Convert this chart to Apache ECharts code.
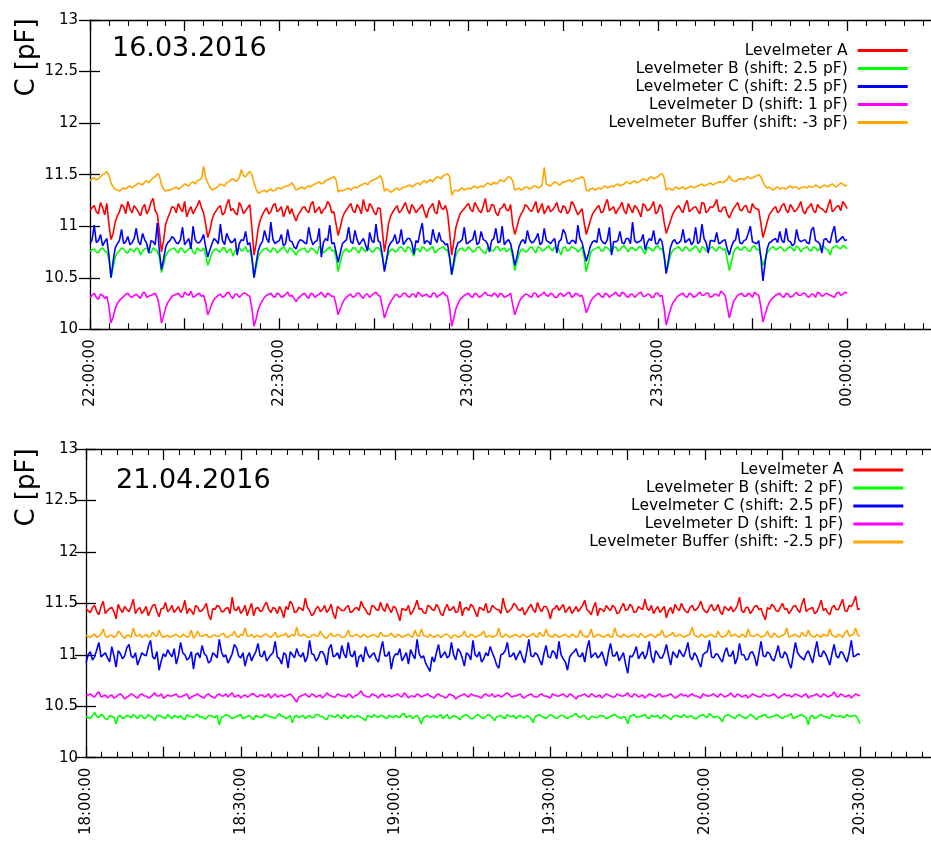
<!DOCTYPE html>
<html><head><meta charset="utf-8">
<script src="https://cdn.jsdelivr.net/npm/echarts@6/dist/echarts.min.js"></script>
<style>html,body{margin:0;padding:0;background:#fff;overflow:hidden;width:931px;height:843px}#c{width:960px;height:843px}</style>
</head><body><div id="c"></div>
<script>
// ---- Plot 1: 16.03.2016, start 22:00:00; main samples every 40 s, "Mid" samples 20 s after each ----
const topStartMin = 22 * 60;
const topStepMin = 40 / 60;
const topNames = ['Levelmeter A', 'Levelmeter B (shift: 2.5 pF)', 'Levelmeter C (shift: 2.5 pF)', 'Levelmeter D (shift: 1 pF)', 'Levelmeter Buffer (shift: -3 pF)'];
const topA = [
11.15,11.20,11.12,11.18,11.22,10.87,11.04,11.14,11.19,11.24,
11.13,11.17,11.10,11.21,11.16,11.27,11.12,10.75,11.02,11.13,
11.18,11.22,11.14,11.09,11.19,11.16,11.25,11.13,10.89,11.06,
11.15,11.20,11.13,11.26,11.17,11.11,11.19,11.15,11.21,10.72,
10.98,11.11,11.18,11.14,11.22,11.16,11.09,11.20,11.17,11.05,
11.14,11.19,11.13,11.24,11.16,11.12,11.18,11.21,11.14,10.91,
11.08,11.16,11.22,11.13,11.18,11.26,11.14,11.19,11.11,11.17,
10.75,11.03,11.14,11.20,11.15,11.23,11.12,11.18,11.16,11.21,
11.08,11.19,11.14,11.25,11.16,11.13,10.72,10.99,11.12,11.17,
11.22,11.14,11.19,11.13,11.27,11.15,11.20,11.10,11.18,11.16,
11.21,10.92,11.07,11.15,11.19,11.14,11.24,11.17,11.12,11.20,
11.16,11.23,11.13,11.18,11.15,11.21,11.11,11.17,10.92,11.06,
11.15,11.20,11.14,11.26,11.17,11.12,11.19,11.15,11.22,11.13,
11.18,11.09,11.20,11.16,11.24,11.14,11.18,10.93,11.05,11.15,
11.20,11.13,11.25,11.16,11.19,11.12,11.22,11.15,11.18,11.26,
11.14,11.19,11.08,11.17,11.23,11.15,11.20,11.13,11.18,11.16,
10.89,11.04,11.14,11.19,11.15,11.22,11.13,11.18,11.16,11.24,
11.12,11.19,11.15,11.21,11.17,11.13,11.26,11.16,11.20,11.24,
11.17];
const topAMid = [
11.18,11.14,11.23,11.11,11.02,10.93,11.10,11.21,11.12,11.17,
11.20,11.14,11.18,11.12,11.23,11.15,10.95,10.86,11.08,11.19,
11.13,11.17,11.24,11.15,11.12,11.20,11.18,11.02,10.96,11.12,
11.18,11.11,11.21,11.15,11.13,11.23,11.12,11.18,10.98,10.83,
11.06,11.15,11.12,11.20,11.14,11.19,11.15,11.12,11.10,11.11,
11.18,11.15,11.21,11.13,11.19,11.16,11.24,11.13,11.02,10.99,
11.13,11.19,11.15,11.21,11.12,11.17,11.22,11.14,11.18,10.96,
10.88,11.10,11.17,11.13,11.19,11.16,11.21,11.13,11.18,11.14,
11.16,11.22,11.12,11.18,11.20,10.94,10.85,11.06,11.15,11.20,
11.16,11.23,11.15,11.19,11.14,11.21,11.13,11.17,11.22,11.15,
11.02,10.99,11.12,11.21,11.16,11.19,11.13,11.22,11.16,11.14,
11.19,11.15,11.20,11.12,11.24,11.16,11.14,11.03,10.99,11.12,
11.18,11.13,11.21,11.15,11.19,11.16,11.23,11.12,11.17,11.20,
11.14,11.22,11.15,11.19,11.12,11.21,11.04,10.99,11.11,11.18,
11.16,11.21,11.14,11.18,11.15,11.23,11.13,11.19,11.21,11.15,
11.18,11.12,11.13,11.20,11.16,11.19,11.14,11.22,11.17,11.03,
10.96,11.11,11.17,11.13,11.20,11.16,11.21,11.14,11.19,11.15,
11.17,11.22,11.13,11.18,11.15,11.20,11.14,11.19,11.15,11.21];
const topB = [
10.76,10.78,10.74,10.79,10.75,10.50,10.70,10.76,10.78,10.74,
10.77,10.79,10.72,10.78,10.75,10.79,10.76,10.55,10.71,10.77,
10.79,10.74,10.78,10.76,10.80,10.73,10.77,10.79,10.62,10.74,
10.78,10.75,10.79,10.77,10.71,10.78,10.76,10.80,10.77,10.50,
10.70,10.77,10.79,10.75,10.78,10.76,10.80,10.74,10.78,10.72,
10.77,10.79,10.75,10.78,10.73,10.79,10.76,10.80,10.77,10.56,
10.73,10.78,10.76,10.79,10.74,10.78,10.80,10.75,10.79,10.77,
10.60,10.74,10.78,10.76,10.80,10.75,10.79,10.71,10.78,10.80,
10.76,10.79,10.74,10.78,10.80,10.77,10.53,10.72,10.78,10.76,
10.80,10.75,10.79,10.77,10.73,10.79,10.76,10.80,10.78,10.75,
10.79,10.57,10.73,10.78,10.76,10.80,10.74,10.79,10.77,10.81,
10.76,10.79,10.72,10.80,10.77,10.79,10.75,10.80,10.56,10.74,
10.78,10.80,10.76,10.79,10.74,10.80,10.77,10.81,10.75,10.79,
10.77,10.80,10.73,10.79,10.76,10.81,10.78,10.55,10.72,10.78,
10.80,10.76,10.79,10.77,10.81,10.74,10.79,10.77,10.80,10.76,
10.79,10.78,10.57,10.75,10.80,10.77,10.79,10.76,10.81,10.78,
10.62,10.74,10.79,10.77,10.80,10.76,10.79,10.78,10.81,10.75,
10.79,10.77,10.80,10.76,10.81,10.78,10.72,10.80,10.79,10.81,
10.78];
const topBMid = [
10.77,10.75,10.78,10.76,10.68,10.60,10.74,10.79,10.75,10.78,
10.75,10.78,10.76,10.79,10.74,10.77,10.70,10.63,10.75,10.78,
10.76,10.79,10.74,10.78,10.75,10.79,10.76,10.72,10.68,10.77,
10.76,10.79,10.74,10.78,10.76,10.79,10.77,10.75,10.68,10.60,
10.74,10.78,10.76,10.79,10.74,10.78,10.77,10.79,10.75,10.76,
10.78,10.75,10.79,10.76,10.80,10.74,10.78,10.76,10.70,10.65,
10.77,10.75,10.79,10.76,10.80,10.75,10.78,10.76,10.79,10.70,
10.67,10.77,10.75,10.79,10.77,10.80,10.76,10.78,10.75,10.79,
10.77,10.80,10.76,10.79,10.77,10.69,10.62,10.76,10.79,10.77,
10.78,10.76,10.80,10.75,10.79,10.77,10.80,10.76,10.79,10.77,
10.70,10.65,10.77,10.75,10.79,10.77,10.80,10.76,10.79,10.78,
10.80,10.77,10.79,10.76,10.80,10.78,10.77,10.70,10.64,10.77,
10.79,10.76,10.80,10.77,10.79,10.76,10.80,10.78,10.79,10.77,
10.80,10.76,10.79,10.77,10.80,10.78,10.70,10.63,10.76,10.79,
10.77,10.80,10.76,10.79,10.78,10.80,10.76,10.79,10.77,10.80,
10.77,10.68,10.65,10.78,10.77,10.80,10.76,10.80,10.77,10.71,
10.68,10.77,10.80,10.78,10.79,10.77,10.80,10.76,10.79,10.78,
10.80,10.76,10.79,10.78,10.80,10.77,10.79,10.81,10.78,10.80];
const topC = [
10.83,11.01,10.86,10.81,10.88,10.50,10.79,10.86,10.83,10.90,
10.84,10.98,10.82,10.87,10.74,10.85,11.03,10.58,10.80,10.86,
10.88,10.83,10.99,10.85,10.78,10.87,10.84,10.92,10.70,10.83,
10.86,11.02,10.82,10.88,10.85,10.72,10.87,10.95,10.84,10.50,
10.76,10.85,10.88,11.04,10.83,10.86,10.81,10.97,10.85,10.78,
10.87,10.84,10.99,10.82,10.86,10.70,10.88,11.01,10.84,10.65,
10.83,10.87,10.85,10.96,10.82,10.88,10.76,10.86,11.02,10.84,
10.56,10.80,10.86,10.83,10.97,10.85,10.88,10.73,10.84,11.03,
10.86,10.82,10.88,10.94,10.85,10.83,10.53,10.78,10.85,10.99,
10.84,10.87,10.82,10.95,10.86,10.75,10.88,10.84,11.00,10.85,
10.83,10.62,10.80,10.87,10.96,10.84,10.88,10.82,10.98,10.85,
10.86,10.74,10.87,10.93,10.83,10.86,11.01,10.84,10.66,10.81,
10.86,10.98,10.84,10.87,10.72,10.85,10.95,10.83,10.88,11.04,
10.84,10.86,10.77,10.88,10.96,10.83,10.85,10.54,10.79,10.87,
10.84,10.97,10.86,10.82,10.99,10.85,10.88,10.74,10.86,10.94,
10.84,10.87,10.72,10.85,10.98,10.83,10.87,11.00,10.84,10.86,
10.47,10.78,10.85,10.88,10.95,10.84,10.86,10.81,10.97,10.85,
10.87,10.83,10.99,10.85,10.74,10.88,10.84,11.00,10.86,10.90,
10.87];
const topCMid = [
10.87,10.84,10.92,10.85,10.72,10.66,10.83,10.97,10.85,10.82,
10.88,10.85,10.93,10.83,10.86,10.82,10.75,10.68,10.84,10.90,
10.84,10.87,10.82,10.88,11.00,10.84,10.87,10.80,10.77,10.88,
10.83,10.86,10.93,10.84,10.88,10.83,10.86,10.82,10.70,10.64,
10.82,10.96,10.84,10.87,10.85,10.92,10.83,10.86,10.80,10.84,
10.86,10.83,10.88,10.85,10.98,10.84,10.86,10.83,10.75,10.74,
10.85,10.99,10.83,10.87,10.85,10.82,10.94,10.84,10.86,10.72,
10.67,10.84,10.92,10.85,10.82,10.88,10.84,10.86,10.95,10.83,
10.85,10.97,10.84,10.86,10.82,10.70,10.66,10.84,10.87,10.83,
10.86,10.96,10.84,10.87,10.83,10.86,10.98,10.85,10.82,10.87,
10.74,10.70,10.85,10.83,10.87,10.85,10.93,10.84,10.86,10.83,
10.88,10.85,10.97,10.84,10.86,10.83,10.88,10.75,10.73,10.85,
10.84,10.87,10.83,10.99,10.85,10.86,10.84,10.88,10.83,10.86,
10.85,10.92,10.84,10.86,10.83,10.88,10.72,10.66,10.85,10.83,
10.86,10.84,10.88,10.85,10.83,11.02,10.84,10.86,10.85,10.83,
10.86,10.78,10.80,10.87,10.84,10.86,10.93,10.85,10.83,10.70,
10.64,10.84,10.87,10.84,10.86,10.98,10.85,10.83,10.87,10.86,
10.84,10.96,10.86,10.83,10.87,10.85,10.94,10.84,10.88,10.86];
const topD = [
10.31,10.35,10.29,10.33,10.32,10.06,10.20,10.28,10.32,10.35,
10.31,10.34,10.30,10.36,10.32,10.34,10.31,10.06,10.21,10.29,
10.33,10.35,10.31,10.34,10.37,10.32,10.35,10.33,10.14,10.25,
10.31,10.34,10.32,10.36,10.30,10.34,10.33,10.35,10.32,10.03,
10.19,10.28,10.33,10.35,10.31,10.34,10.32,10.36,10.33,10.27,
10.32,10.35,10.30,10.34,10.33,10.36,10.31,10.34,10.32,10.14,
10.25,10.31,10.34,10.32,10.35,10.30,10.34,10.33,10.36,10.32,
10.11,10.23,10.30,10.34,10.32,10.35,10.31,10.34,10.36,10.32,
10.34,10.31,10.35,10.33,10.36,10.32,10.03,10.20,10.29,10.33,
10.35,10.31,10.34,10.32,10.36,10.33,10.35,10.31,10.34,10.32,
10.35,10.14,10.26,10.32,10.34,10.31,10.35,10.33,10.36,10.32,
10.34,10.31,10.35,10.33,10.36,10.32,10.34,10.33,10.16,10.27,
10.32,10.35,10.31,10.34,10.33,10.36,10.32,10.35,10.31,10.34,
10.33,10.36,10.32,10.34,10.31,10.35,10.33,10.04,10.19,10.28,
10.33,10.35,10.31,10.34,10.32,10.36,10.33,10.35,10.32,10.34,
10.37,10.33,10.11,10.27,10.33,10.35,10.32,10.34,10.36,10.33,
10.07,10.21,10.29,10.33,10.35,10.31,10.34,10.32,10.36,10.33,
10.35,10.31,10.34,10.36,10.32,10.35,10.33,10.31,10.36,10.34,
10.35];
const topDMid = [
10.33,10.31,10.34,10.30,10.22,10.12,10.25,10.30,10.34,10.32,
10.33,10.32,10.35,10.31,10.33,10.35,10.22,10.13,10.26,10.32,
10.34,10.32,10.36,10.33,10.31,10.34,10.32,10.26,10.19,10.29,
10.33,10.31,10.35,10.32,10.34,10.31,10.35,10.33,10.20,10.10,
10.24,10.31,10.34,10.32,10.35,10.31,10.34,10.32,10.30,10.30,
10.34,10.32,10.35,10.31,10.34,10.33,10.35,10.32,10.24,10.20,
10.29,10.33,10.31,10.35,10.32,10.34,10.31,10.35,10.33,10.22,
10.17,10.27,10.33,10.31,10.35,10.32,10.34,10.31,10.34,10.33,
10.32,10.35,10.31,10.34,10.33,10.21,10.11,10.25,10.31,10.34,
10.32,10.35,10.31,10.34,10.33,10.32,10.34,10.35,10.31,10.33,
10.24,10.20,10.30,10.34,10.32,10.35,10.31,10.34,10.33,10.35,
10.31,10.34,10.32,10.35,10.31,10.35,10.32,10.25,10.21,10.30,
10.34,10.32,10.35,10.31,10.34,10.33,10.36,10.32,10.34,10.31,
10.35,10.32,10.34,10.31,10.35,10.32,10.21,10.12,10.25,10.31,
10.34,10.32,10.35,10.31,10.34,10.33,10.35,10.31,10.34,10.32,
10.35,10.22,10.19,10.30,10.34,10.32,10.35,10.31,10.34,10.22,
10.14,10.26,10.31,10.34,10.32,10.35,10.31,10.34,10.33,10.35,
10.32,10.34,10.31,10.35,10.33,10.34,10.32,10.35,10.33,10.36];
const topBuf = [
11.44,11.47,11.46,11.50,11.53,11.42,11.36,11.34,11.37,11.38,
11.37,11.40,11.41,11.43,11.42,11.47,11.51,11.40,11.34,11.35,
11.37,11.36,11.39,11.40,11.42,11.41,11.45,11.58,11.42,11.35,
11.37,11.41,11.39,11.43,11.46,11.44,11.55,11.48,11.53,11.42,
11.32,11.34,11.33,11.36,11.35,11.37,11.38,11.39,11.42,11.35,
11.37,11.36,11.39,11.40,11.42,11.41,11.44,11.46,11.48,11.33,
11.34,11.36,11.35,11.38,11.39,11.41,11.40,11.44,11.46,11.49,
11.34,11.35,11.34,11.37,11.36,11.38,11.40,11.39,11.42,11.43,
11.42,11.45,11.46,11.47,11.49,11.51,11.30,11.35,11.36,11.35,
11.37,11.38,11.37,11.39,11.40,11.41,11.43,11.42,11.44,11.46,
11.47,11.35,11.37,11.36,11.38,11.37,11.39,11.38,11.57,11.40,
11.41,11.42,11.41,11.43,11.45,11.44,11.46,11.48,11.35,11.36,
11.35,11.37,11.38,11.37,11.39,11.40,11.39,11.41,11.42,11.43,
11.42,11.44,11.45,11.47,11.46,11.48,11.51,11.35,11.36,11.37,
11.36,11.38,11.37,11.39,11.38,11.40,11.39,11.41,11.40,11.42,
11.43,11.44,11.49,11.44,11.45,11.46,11.47,11.46,11.48,11.50,
11.43,11.37,11.36,11.37,11.36,11.37,11.38,11.37,11.38,11.37,
11.38,11.39,11.38,11.39,11.38,11.39,11.40,11.39,11.40,11.41,
11.40];
const topBufMid = [
11.46,11.45,11.48,11.51,11.49,11.38,11.35,11.36,11.36,11.39,
11.39,11.42,11.40,11.44,11.45,11.48,11.49,11.36,11.35,11.36,
11.38,11.37,11.41,11.39,11.43,11.44,11.46,11.47,11.38,11.36,
11.39,11.40,11.42,11.45,11.44,11.47,11.49,11.51,11.50,11.36,
11.33,11.35,11.35,11.34,11.37,11.36,11.39,11.40,11.39,11.36,
11.38,11.38,11.38,11.41,11.43,11.42,11.45,11.47,11.45,11.35,
11.35,11.37,11.37,11.37,11.40,11.42,11.43,11.45,11.47,11.45,
11.36,11.33,11.36,11.35,11.38,11.39,11.38,11.41,11.40,11.44,
11.44,11.43,11.48,11.46,11.50,11.48,11.34,11.34,11.37,11.36,
11.36,11.39,11.38,11.38,11.42,11.40,11.41,11.45,11.43,11.48,
11.44,11.36,11.35,11.38,11.36,11.39,11.37,11.40,11.41,11.39,
11.43,11.40,11.43,11.44,11.43,11.46,11.47,11.46,11.34,11.37,
11.36,11.36,11.39,11.38,11.38,11.41,11.40,11.43,11.41,11.44,
11.43,11.46,11.44,11.48,11.47,11.50,11.47,11.37,11.35,11.38,
11.37,11.36,11.38,11.37,11.39,11.41,11.40,11.42,11.41,11.43,
11.42,11.45,11.45,11.43,11.46,11.45,11.48,11.47,11.49,11.48,
11.39,11.38,11.35,11.38,11.37,11.36,11.39,11.38,11.36,11.38,
11.37,11.38,11.40,11.37,11.40,11.38,11.41,11.38,11.42,11.39];

// ---- Plot 2: 21.04.2016, start 18:00:00; main samples every 50 s, "Mid" samples 25 s after each ----
const botStartMin = 18 * 60;
const botStepMin = 50 / 60;
const botNames = ['Levelmeter A', 'Levelmeter B (shift: 2 pF)', 'Levelmeter C (shift: 2.5 pF)', 'Levelmeter D (shift: 1 pF)', 'Levelmeter Buffer (shift: -2.5 pF)'];
const botA = [
11.45,11.41,11.48,11.39,11.52,11.43,11.46,11.35,11.44,11.47,
11.42,11.54,11.44,11.40,11.47,11.43,11.49,11.37,11.45,11.42,
11.48,11.44,11.41,11.53,11.45,11.39,11.46,11.43,11.50,11.34,
11.44,11.47,11.42,11.46,11.56,11.43,11.40,11.48,11.44,11.38,
11.46,11.43,11.51,11.41,11.45,11.47,11.36,11.44,11.49,11.42,
11.45,11.55,11.43,11.40,11.47,11.44,11.41,11.49,11.35,11.45,
11.43,11.48,11.42,11.46,11.52,11.44,11.39,11.47,11.43,11.45,
11.50,11.41,11.46,11.33,11.44,11.48,11.42,11.53,11.45,11.40,
11.47,11.43,11.46,11.38,11.49,11.44,11.41,11.52,11.45,11.43,
11.47,11.37,11.45,11.50,11.42,11.46,11.44,11.55,11.41,11.45,
11.48,11.43,11.39,11.46,11.44,11.51,11.42,11.47,11.35,11.45,
11.43,11.49,11.44,11.40,11.47,11.45,11.53,11.42,11.46,11.38,
11.44,11.48,11.43,11.46,11.41,11.50,11.44,11.47,11.42,11.45,
11.54,11.43,11.40,11.47,11.44,11.36,11.46,11.49,11.43,11.45,
11.41,11.48,11.44,11.52,11.42,11.46,11.43,11.49,11.39,11.45,
11.47,11.44,11.56,11.41,11.46,11.43,11.48,11.45,11.34,11.44,
11.47,11.42,11.50,11.45,11.43,11.48,11.41,11.55,11.44,11.46,
11.42,11.53,11.45,11.39,11.48,11.44,11.54,11.42,11.47,11.57,
11.45];
const botAMid = [
11.43,11.46,11.42,11.47,11.40,11.45,11.42,11.49,11.41,11.44,
11.47,11.40,11.46,11.43,11.38,11.48,11.42,11.45,11.51,11.44,
11.41,11.47,11.45,11.40,11.43,11.48,11.42,11.46,11.39,11.45,
11.48,11.42,11.45,11.40,11.44,11.47,11.43,11.38,11.50,11.45,
11.42,11.48,11.44,11.46,11.40,11.43,11.47,11.52,11.41,11.46,
11.43,11.46,11.38,11.45,11.42,11.48,11.44,11.40,11.47,11.43,
11.46,11.41,11.45,11.43,11.47,11.40,11.48,11.44,11.51,11.42,
11.45,11.47,11.40,11.45,11.43,11.39,11.47,11.44,11.41,11.48,
11.44,11.49,11.40,11.45,11.43,11.47,11.42,11.38,11.46,11.49,
11.42,11.46,11.43,11.41,11.48,11.44,11.40,11.46,11.43,11.50,
11.44,11.46,11.42,11.49,11.41,11.45,11.47,11.43,11.44,11.48,
11.46,11.41,11.47,11.43,11.42,11.48,11.44,11.39,11.51,11.45,
11.42,11.45,11.48,11.40,11.46,11.43,11.49,11.41,11.47,11.44,
11.45,11.48,11.44,11.41,11.47,11.43,11.40,11.45,11.50,11.42,
11.46,11.43,11.47,11.45,11.41,11.49,11.44,11.42,11.47,11.43,
11.42,11.48,11.43,11.46,11.40,11.47,11.44,11.39,11.46,11.49,
11.43,11.46,11.44,11.40,11.47,11.44,11.49,11.42,11.45,11.40,
11.47,11.43,11.41,11.46,11.44,11.49,11.43,11.48,11.51,11.44];
const botB = [
10.40,10.38,10.44,10.39,10.41,10.37,10.40,10.33,10.41,10.39,
10.40,10.42,10.38,10.41,10.39,10.40,10.36,10.41,10.39,10.42,
10.38,10.40,10.41,10.37,10.40,10.39,10.42,10.40,10.38,10.41,
10.39,10.32,10.40,10.41,10.38,10.40,10.42,10.39,10.41,10.37,
10.40,10.39,10.41,10.40,10.38,10.43,10.40,10.39,10.34,10.41,
10.40,10.38,10.41,10.39,10.42,10.40,10.37,10.41,10.39,10.40,
10.42,10.38,10.40,10.41,10.39,10.36,10.40,10.42,10.39,10.41,
10.38,10.40,10.41,10.39,10.43,10.40,10.38,10.41,10.33,10.40,
10.39,10.41,10.40,10.38,10.42,10.39,10.40,10.37,10.41,10.40,
10.38,10.42,10.39,10.40,10.41,10.36,10.40,10.39,10.42,10.40,
10.38,10.41,10.39,10.40,10.34,10.41,10.40,10.38,10.42,10.39,
10.40,10.41,10.38,10.40,10.43,10.39,10.41,10.37,10.40,10.39,
10.41,10.38,10.40,10.42,10.39,10.40,10.33,10.41,10.39,10.40,
10.42,10.38,10.40,10.41,10.39,10.40,10.37,10.41,10.40,10.42,
10.39,10.40,10.38,10.41,10.40,10.43,10.39,10.40,10.35,10.41,
10.40,10.38,10.42,10.39,10.40,10.41,10.37,10.40,10.42,10.39,
10.40,10.41,10.38,10.40,10.43,10.39,10.41,10.40,10.32,10.41,
10.39,10.42,10.40,10.38,10.41,10.40,10.39,10.42,10.40,10.41,
10.33];
const botBMid = [
10.39,10.41,10.40,10.42,10.38,10.41,10.39,10.40,10.38,10.41,
10.39,10.40,10.41,10.38,10.42,10.39,10.41,10.40,10.38,10.40,
10.41,10.39,10.38,10.42,10.40,10.41,10.39,10.38,10.41,10.40,
10.41,10.39,10.42,10.40,10.39,10.41,10.38,10.40,10.39,10.41,
10.39,10.42,10.40,10.39,10.41,10.40,10.38,10.41,10.40,10.39,
10.41,10.40,10.39,10.42,10.40,10.38,10.41,10.40,10.42,10.38,
10.40,10.41,10.39,10.40,10.38,10.41,10.39,10.40,10.41,10.39,
10.41,10.39,10.40,10.42,10.39,10.41,10.40,10.38,10.39,10.41,
10.40,10.39,10.42,10.40,10.38,10.41,10.39,10.40,10.42,10.38,
10.40,10.41,10.38,10.42,10.39,10.40,10.41,10.38,10.40,10.41,
10.40,10.39,10.41,10.38,10.40,10.42,10.39,10.40,10.41,10.38,
10.41,10.39,10.40,10.42,10.40,10.41,10.38,10.40,10.39,10.41,
10.40,10.39,10.41,10.40,10.38,10.39,10.40,10.42,10.40,10.41,
10.39,10.41,10.40,10.38,10.42,10.39,10.40,10.41,10.39,10.40,
10.41,10.38,10.40,10.42,10.39,10.41,10.40,10.38,10.40,10.42,
10.39,10.41,10.40,10.38,10.42,10.39,10.40,10.41,10.39,10.40,
10.42,10.39,10.40,10.41,10.38,10.40,10.42,10.39,10.40,10.38,
10.41,10.40,10.39,10.42,10.40,10.41,10.39,10.40,10.41,10.38];
const botC = [
10.92,11.03,10.98,11.12,11.00,10.97,11.08,10.88,11.01,10.99,
11.10,10.97,10.90,11.02,10.99,11.14,10.96,10.85,11.01,11.05,
10.98,10.91,11.12,11.00,10.97,10.86,11.02,11.09,10.99,10.94,
11.00,11.15,10.98,10.92,11.01,11.07,10.97,10.89,11.02,10.99,
11.11,10.98,10.94,11.00,11.13,10.96,11.02,10.87,11.00,11.06,
10.98,10.93,11.14,11.00,10.97,11.03,10.90,11.10,10.99,10.96,
11.01,11.12,10.98,10.88,11.00,11.08,10.97,11.02,10.93,11.13,
10.99,10.86,11.01,11.06,10.98,10.91,11.00,11.15,10.97,10.92,
10.84,10.93,11.10,11.00,10.97,11.12,10.95,11.03,10.89,11.00,
11.14,10.98,10.93,11.02,11.08,10.97,10.87,11.01,11.12,10.99,
10.95,11.04,10.92,11.15,10.98,11.00,10.90,11.09,10.97,11.02,
11.13,10.96,10.85,11.01,11.06,10.98,10.93,11.14,11.00,10.97,
11.03,10.89,11.11,10.99,10.94,11.02,10.82,10.98,11.08,11.00,
10.96,11.13,10.92,11.01,10.97,11.10,10.90,11.00,11.05,10.98,
11.12,10.95,10.99,10.88,11.02,11.14,10.97,11.00,10.93,11.07,
10.99,10.91,11.11,11.00,10.96,11.03,10.89,11.13,10.98,11.01,
10.94,11.09,10.97,11.00,10.87,11.12,10.99,10.95,11.04,10.92,
11.13,10.98,11.01,10.90,11.10,10.97,11.02,10.93,11.14,10.99,
11.00];
const botCMid = [
11.00,10.95,11.05,10.98,11.02,10.93,10.99,11.04,10.96,11.07,
10.99,11.02,10.96,11.00,11.08,10.98,11.03,10.94,10.98,11.01,
11.06,10.99,11.02,10.95,11.03,11.00,10.97,11.01,10.92,11.02,
10.97,11.03,11.00,10.96,11.10,10.99,11.02,10.98,10.94,11.03,
10.99,11.04,10.97,11.02,10.98,10.91,11.00,11.03,10.97,11.00,
11.02,10.98,11.01,10.94,11.03,10.99,11.06,10.98,11.02,11.09,
10.97,11.00,11.04,10.98,10.93,11.01,11.00,10.96,11.04,10.99,
11.03,10.97,11.00,10.94,11.02,11.05,10.96,11.01,10.99,10.88,
10.98,11.02,10.97,11.03,10.99,11.00,11.06,10.97,11.02,10.95,
11.00,11.03,10.96,10.99,11.02,10.90,11.00,11.04,10.98,11.02,
11.00,10.97,11.03,10.99,11.02,10.95,11.01,10.98,11.04,10.96,
11.00,10.93,10.98,11.03,10.99,11.02,11.06,10.97,11.02,10.99,
10.96,11.02,10.99,11.03,10.98,10.91,10.99,11.02,10.96,11.03,
11.01,10.98,11.04,10.97,11.02,10.99,11.03,10.97,11.01,11.04,
10.98,11.02,10.93,11.00,11.03,10.98,11.01,10.96,11.02,10.99,
11.04,10.97,11.00,10.95,11.02,10.98,11.01,10.99,11.03,10.96,
11.01,10.98,11.03,10.92,11.00,11.02,10.97,11.01,10.98,11.03,
10.99,11.04,10.96,11.01,10.99,11.03,10.97,11.02,10.98,11.01];
const botD = [
10.60,10.62,10.59,10.64,10.60,10.58,10.61,10.59,10.62,10.57,
10.60,10.61,10.58,10.62,10.60,10.59,10.63,10.60,10.58,10.61,
10.60,10.62,10.59,10.61,10.57,10.60,10.62,10.59,10.61,10.60,
10.58,10.62,10.60,10.59,10.63,10.60,10.58,10.61,10.60,10.62,
10.59,10.61,10.60,10.58,10.62,10.60,10.59,10.61,10.60,10.54,
10.60,10.62,10.59,10.61,10.60,10.58,10.63,10.60,10.59,10.61,
10.60,10.62,10.58,10.61,10.65,10.60,10.59,10.61,10.58,10.62,
10.60,10.59,10.61,10.60,10.63,10.58,10.60,10.62,10.59,10.61,
10.60,10.58,10.62,10.60,10.59,10.61,10.57,10.60,10.62,10.59,
10.61,10.60,10.58,10.62,10.60,10.59,10.61,10.60,10.63,10.59,
10.60,10.62,10.58,10.61,10.60,10.59,10.62,10.60,10.58,10.61,
10.60,10.62,10.59,10.61,10.57,10.60,10.62,10.59,10.61,10.60,
10.58,10.62,10.60,10.59,10.61,10.60,10.63,10.59,10.61,10.60,
10.58,10.62,10.60,10.61,10.59,10.60,10.62,10.58,10.61,10.60,
10.59,10.62,10.60,10.58,10.61,10.60,10.62,10.59,10.61,10.60,
10.63,10.59,10.61,10.60,10.58,10.62,10.60,10.59,10.61,10.60,
10.62,10.58,10.61,10.60,10.59,10.62,10.60,10.61,10.58,10.60,
10.62,10.59,10.61,10.60,10.64,10.59,10.61,10.60,10.58,10.62,
10.60];
const botDMid = [
10.61,10.60,10.62,10.59,10.61,10.60,10.58,10.61,10.60,10.59,
10.62,10.59,10.61,10.60,10.58,10.61,10.60,10.62,10.59,10.60,
10.61,10.59,10.60,10.62,10.59,10.61,10.60,10.58,10.62,10.59,
10.61,10.60,10.62,10.61,10.59,10.61,10.60,10.59,10.62,10.60,
10.61,10.59,10.62,10.60,10.59,10.61,10.60,10.62,10.57,10.59,
10.61,10.60,10.62,10.59,10.61,10.60,10.61,10.59,10.62,10.60,
10.59,10.61,10.60,10.62,10.61,10.59,10.62,10.60,10.61,10.59,
10.61,10.60,10.62,10.59,10.61,10.60,10.59,10.61,10.60,10.62,
10.59,10.61,10.60,10.58,10.62,10.60,10.59,10.61,10.60,10.62,
10.60,10.59,10.61,10.60,10.62,10.60,10.59,10.62,10.61,10.60,
10.61,10.59,10.60,10.62,10.59,10.61,10.60,10.59,10.62,10.60,
10.61,10.60,10.62,10.59,10.60,10.61,10.60,10.62,10.59,10.61,
10.60,10.61,10.59,10.62,10.60,10.61,10.60,10.62,10.59,10.61,
10.60,10.61,10.59,10.62,10.60,10.61,10.60,10.59,10.62,10.61,
10.61,10.60,10.59,10.62,10.60,10.61,10.60,10.62,10.59,10.61,
10.60,10.62,10.59,10.61,10.60,10.61,10.59,10.62,10.60,10.61,
10.60,10.59,10.62,10.61,10.60,10.61,10.59,10.62,10.60,10.61,
10.60,10.62,10.59,10.61,10.60,10.62,10.59,10.61,10.60,10.61];
const botBuf = [
11.19,11.17,11.20,11.18,11.25,11.17,11.19,11.18,11.21,11.16,
11.19,11.26,11.18,11.17,11.20,11.18,11.19,11.24,11.17,11.19,
11.18,11.20,11.17,11.19,11.18,11.16,11.23,11.18,11.20,11.17,
11.19,11.18,11.21,11.17,11.19,11.18,11.20,11.26,11.18,11.17,
11.19,11.18,11.20,11.17,11.22,11.18,11.19,11.17,11.20,11.27,
11.18,11.19,11.17,11.20,11.18,11.19,11.16,11.21,11.18,11.19,
11.17,11.24,11.18,11.20,11.17,11.19,11.18,11.20,11.17,11.19,
11.18,11.21,11.17,11.19,11.18,11.20,11.17,11.19,11.25,11.18,
11.20,11.17,11.19,11.18,11.20,11.16,11.19,11.18,11.23,11.17,
11.19,11.18,11.20,11.17,11.19,11.18,11.26,11.17,11.19,11.18,
11.20,11.17,11.19,11.18,11.21,11.17,11.19,11.25,11.18,11.20,
11.17,11.19,11.18,11.20,11.17,11.24,11.18,11.19,11.17,11.20,
11.18,11.19,11.17,11.26,11.18,11.20,11.17,11.19,11.18,11.21,
11.17,11.19,11.18,11.20,11.24,11.17,11.19,11.18,11.20,11.17,
11.19,11.27,11.18,11.20,11.17,11.19,11.18,11.23,11.17,11.19,
11.18,11.20,11.17,11.19,11.25,11.18,11.20,11.17,11.19,11.18,
11.21,11.17,11.19,11.26,11.18,11.20,11.17,11.19,11.24,11.18,
11.20,11.17,11.19,11.25,11.18,11.20,11.17,11.24,11.19,11.26,
11.18];
const botBufMid = [
11.18,11.19,11.17,11.20,11.18,11.19,11.17,11.23,11.18,11.19,
11.17,11.19,11.20,11.18,11.17,11.22,11.18,11.19,11.18,11.17,
11.19,11.18,11.20,11.17,11.24,11.19,11.18,11.19,11.17,11.19,
11.18,11.20,11.17,11.19,11.23,11.17,11.19,11.18,11.20,11.18,
11.17,11.20,11.18,11.19,11.17,11.19,11.21,11.18,11.18,11.19,
11.20,11.17,11.19,11.18,11.23,11.17,11.19,11.18,11.20,11.17,
11.19,11.18,11.19,11.18,11.20,11.17,11.19,11.18,11.22,11.18,
11.19,11.18,11.20,11.17,11.19,11.18,11.24,11.18,11.19,11.17,
11.18,11.19,11.17,11.20,11.18,11.19,11.17,11.19,11.18,11.20,
11.17,11.19,11.23,11.18,11.17,11.19,11.18,11.20,11.17,11.19,
11.18,11.20,11.17,11.19,11.18,11.22,11.18,11.19,11.17,11.19,
11.18,11.20,11.17,11.19,11.18,11.19,11.17,11.25,11.18,11.19,
11.17,11.20,11.18,11.19,11.17,11.19,11.18,11.20,11.17,11.19,
11.18,11.20,11.17,11.19,11.18,11.19,11.22,11.18,11.19,11.18,
11.20,11.19,11.17,11.19,11.18,11.20,11.17,11.19,11.18,11.24,
11.19,11.18,11.20,11.17,11.19,11.18,11.19,11.18,11.23,11.17,
11.19,11.18,11.20,11.17,11.19,11.18,11.22,11.18,11.19,11.17,
11.18,11.20,11.18,11.19,11.17,11.19,11.21,11.18,11.20,11.19];

const colors = ['#ff0000', '#00ff00', '#0000ff', '#ff00ff', '#ffa500'];

// combine main samples (at i*step) and mid samples (at (i+0.5)*step) into [x, y] pairs
function pairs(step, main, mid) {
  const out = [];
  main.forEach((v, i) => {
    out.push([i * step, v]);
    if (i < mid.length) out.push([(i + 0.5) * step, mid[i]]);
  });
  return out;
}
function pad(n) { return (n < 10 ? '0' : '') + n; }
function timeFmt(base) {
  return function (v) {
    const m = Math.round(v);
    if (m % 30 !== 0) return '';
    const tot = base + m;
    return pad(Math.floor(tot / 60) % 24) + ':' + pad(tot % 60) + ':00';
  };
}
const FONT = 'DejaVu Sans';
const black = { color: '#000', width: 1.3 };

function xAxes(grid, max, base, labelMargin) {
  return [{
    type: 'value', gridIndex: grid, min: 0, max: max, interval: 15, position: 'bottom',
    axisLine: { show: true, lineStyle: black },
    axisTick: { show: true, inside: true, length: 11, lineStyle: black },
    minorTick: { show: true, splitNumber: 5, length: 6, lineStyle: { color: '#000', width: 1.1 } },
    splitLine: { show: false },
    axisLabel: { show: true, rotate: 90, margin: labelMargin, fontSize: 15, fontFamily: FONT, color: '#000', formatter: timeFmt(base), showMinLabel: true, showMaxLabel: true, hideOverlap: false }
  }, {
    type: 'value', gridIndex: grid, min: 0, max: max, interval: 15, position: 'top',
    axisLine: { show: true, lineStyle: black },
    axisTick: { show: true, inside: true, length: 11, lineStyle: black },
    minorTick: { show: true, splitNumber: 5, length: 6, lineStyle: { color: '#000', width: 1.1 } },
    splitLine: { show: false }, axisLabel: { show: false }
  }];
}
function yAxes(grid, labelMargin) {
  return [{
    type: 'value', gridIndex: grid, min: 10, max: 13, interval: 0.5, position: 'left',
    axisLine: { show: true, lineStyle: black },
    axisTick: { show: true, inside: true, length: 10, lineStyle: black },
    splitLine: { show: false },
    axisLabel: { margin: labelMargin, fontSize: 15, fontFamily: FONT, color: '#000', showMinLabel: true, showMaxLabel: true }
  }, {
    type: 'value', gridIndex: grid, min: 10, max: 13, interval: 0.5, position: 'right',
    axisLine: { show: false },
    axisTick: { show: true, inside: true, length: 11, lineStyle: black },
    splitLine: { show: false }, axisLabel: { show: false }
  }];
}
function lineSeries(name, main, mid, step, color, xi, yi) {
  return {
    type: 'line', name: name, data: pairs(step, main, mid), xAxisIndex: xi, yAxisIndex: yi,
    showSymbol: false, symbol: 'none', animation: false, silent: true,
    lineStyle: { color: color, width: 1.6 }, itemStyle: { color: color }
  };
}
function legend(names, right, top) {
  return {
    data: names.map(n => ({ name: n, icon: 'rect' })), orient: 'vertical', align: 'right', right: right, top: top,
    padding: 0, itemGap: 0, itemWidth: 50, itemHeight: 3, selectedMode: false,
    textStyle: { fontSize: 15.5, fontFamily: FONT, color: '#000', lineHeight: 18, padding: [0, 5, 0, 0] }
  };
}

const topData = [[topA, topAMid], [topB, topBMid], [topC, topCMid], [topD, topDMid], [topBuf, topBufMid]];
const botData = [[botA, botAMid], [botB, botBMid], [botC, botCMid], [botD, botDMid], [botBuf, botBufMid]];
const series = [];
topData.forEach((d, k) => series.push(lineSeries(topNames[k], d[0], d[1], topStepMin, colors[k], 0, 0)));
botData.forEach((d, k) => series.push(lineSeries(botNames[k], d[0], d[1], botStepMin, colors[k], 2, 2)));

// container is 960 wide (window shows 931); right offsets measured from 960
const chart = echarts.init(document.getElementById('c'), null, { renderer: 'canvas' });
chart.setOption({
  backgroundColor: '#fff',
  animation: false,
  textStyle: { fontFamily: FONT },
  grid: [
    { left: 90, top: 20, width: 851.7, height: 309.3, containLabel: false },
    { left: 86, top: 449, width: 851.3, height: 308.7, containLabel: false }
  ],
  title: [
    { text: '16.03.2016', left: 107, top: 30, textStyle: { fontSize: 27, fontWeight: 'normal', fontFamily: FONT, color: '#000' } },
    { text: '21.04.2016', left: 111, top: 462, textStyle: { fontSize: 27, fontWeight: 'normal', fontFamily: FONT, color: '#000' } }
  ],
  legend: [legend(topNames, 960 - 907.7, 41.5), legend(botNames, 960 - 903.3, 461)],
  xAxis: [].concat(xAxes(0, 135, topStartMin, 10), xAxes(1, 165, botStartMin, 10)),
  yAxis: [].concat(yAxes(0, 12), yAxes(1, 8)),
  graphic: [
    { type: 'text', x: 27, y: 57.5, rotation: Math.PI / 2, style: { text: 'C [pF]', font: '26px "DejaVu Sans"', fill: '#000', align: 'center', verticalAlign: 'middle' } },
    { type: 'text', x: 27, y: 487.5, rotation: Math.PI / 2, style: { text: 'C [pF]', font: '26px "DejaVu Sans"', fill: '#000', align: 'center', verticalAlign: 'middle' } }
  ],
  series: series
});
</script>
</body></html>
